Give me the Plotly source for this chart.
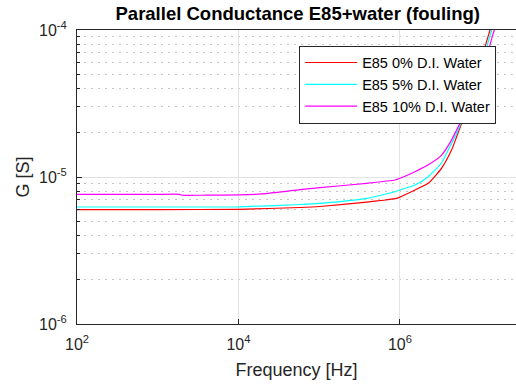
import plotly.graph_objects as go

# Data (log10 of frequency in Hz, conductance in S)
logf_red = [2.0, 3.0, 4.0, 4.762, 5.009, 5.587, 5.8, 5.938, 6.0, 6.186, 6.35, 6.516, 6.64, 6.702, 6.784,
            6.952, 7.115, 7.16]
g_red = [6.0e-6, 6.0e-6, 6.03e-6, 6.2e-6, 6.3e-6, 6.75e-6, 6.95e-6, 7.12e-6, 7.3e-6, 8.16e-6, 9.06e-6, 1.15e-5,
         1.53e-5, 1.88e-5, 2.5e-5, 5.0e-5, 1.0e-4, 1.2e-4]

logf_cyan = [2.0, 3.0, 4.0, 4.762, 5.009, 5.587, 5.938, 6.0, 6.186, 6.35, 6.516, 6.619, 6.702, 6.784,
             6.973, 7.136, 7.18]
g_cyan = [6.25e-6, 6.25e-6, 6.27e-6, 6.5e-6, 6.62e-6, 7.16e-6, 7.94e-6, 8.16e-6, 8.82e-6, 1.005e-5, 1.25e-5,
          1.61e-5, 1.98e-5, 2.57e-5, 5.0e-5, 1.0e-4, 1.2e-4]

logf_mag = [2.0, 3.0, 3.27, 3.30, 3.6, 4.0, 4.3, 4.762, 5.009, 5.587, 5.938, 6.0, 6.186, 6.35, 6.516,
            6.64, 6.702, 6.764, 6.846, 7.006, 7.168, 7.21]
g_mag = [7.62e-6, 7.62e-6, 7.62e-6, 7.51e-6, 7.52e-6, 7.55e-6, 7.68e-6, 8.2e-6, 8.46e-6, 9.06e-6, 9.54e-6,
         9.8e-6, 1.087e-5, 1.21e-5, 1.41e-5, 1.79e-5, 2.09e-5, 2.44e-5, 2.95e-5, 5.0e-5, 1.0e-4, 1.2e-4]

series_names = ["E85 0% D.I. Water", "E85 5% D.I. Water", "E85 10% D.I. Water"]
series_colors = ["#ff0000", "#00ffff", "#ff00ff"]

x_tickvals = [1e2, 1e4, 1e6]
x_ticktext = ["10<sup>2</sup>", "10<sup>4</sup>", "10<sup>6</sup>"]
y_tickvals = [1e-6, 1e-5, 1e-4]
y_ticktext = ["10<sup>-6</sup>", "10<sup>-5</sup>", "10<sup>-4</sup>"]
y_minor = [m * 10.0 ** e for e in (-6, -5) for m in range(2, 10)]

fig = go.Figure()
for lf, gy, name, col in zip([logf_red, logf_cyan, logf_mag], [g_red, g_cyan, g_mag],
                             series_names, series_colors):
    fx = [10.0 ** v for v in lf]
    fig.add_trace(go.Scatter(x=fx, y=gy, mode="lines", name=name,
                             line=dict(color=col, width=1.2, shape="spline", smoothing=0.5)))

font_family = "Liberation Sans, Arial, sans-serif"
axis_col = "#262626"

fig.update_layout(
    width=516, height=385,
    margin=dict(l=77, r=0, t=30, b=61),
    paper_bgcolor="white", plot_bgcolor="white",
    font=dict(family=font_family, color=axis_col, size=16),
    title=dict(text="<b>Parallel Conductance E85+water (fouling)</b>",
               x=0.577, xanchor="center", y=0.966, yanchor="middle",
               font=dict(size=18.5, color="black")),
    legend=dict(x=0.506, y=0.947, xanchor="left", yanchor="top",
                bgcolor="white", bordercolor="#262626", borderwidth=1,
                font=dict(size=14.5, color="black"), tracegroupgap=0,
                itemwidth=52),
    showlegend=True,
)

fig.update_xaxes(
    type="log", range=[2, 7.437],
    tickvals=x_tickvals, ticktext=x_ticktext,
    ticks="inside", ticklen=5, tickcolor=axis_col,
    ticklabelstandoff=6,
    showline=True, linecolor=axis_col, linewidth=1, mirror=True,
    showgrid=True, gridcolor="#e3e3e3", gridwidth=1,
    zeroline=False,
    title=dict(text="Frequency [Hz]", font=dict(size=18), standoff=11),
)
fig.update_yaxes(
    type="log", range=[-6, -4],
    tickvals=y_tickvals, ticktext=y_ticktext,
    ticks="inside", ticklen=5, tickcolor=axis_col,
    ticklabelstandoff=6,
    showline=True, linecolor=axis_col, linewidth=1, mirror=True,
    showgrid=True, gridcolor="#e3e3e3", gridwidth=1,
    zeroline=False,
    minor=dict(tickvals=y_minor, ticks="inside", ticklen=3, tickcolor=axis_col,
               showgrid=True, gridcolor="#c4c4c4", griddash="2px,5px", gridwidth=1),
    title=dict(text="G [S]", font=dict(size=18), standoff=4),
)

fig.write_html("out.html")
